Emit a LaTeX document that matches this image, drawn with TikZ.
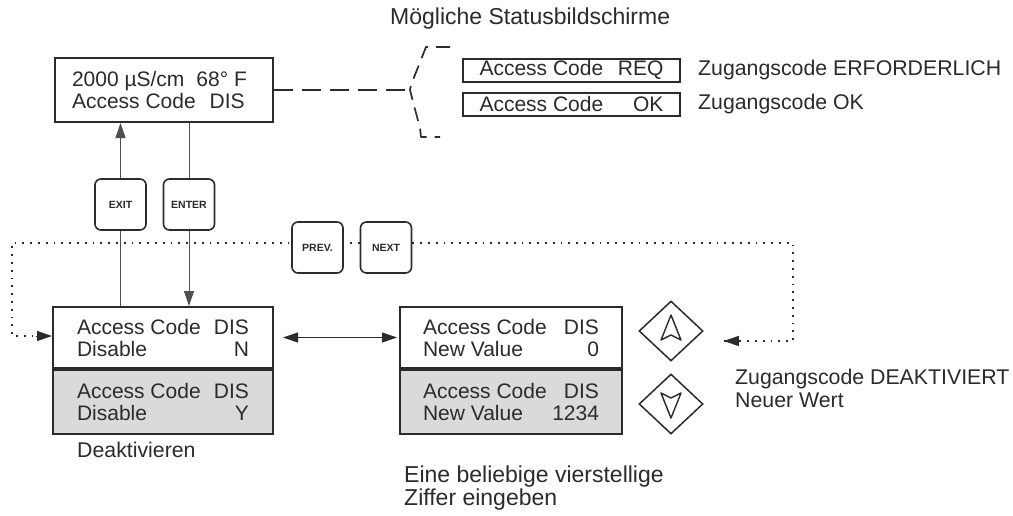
\documentclass[tikz,border=0pt]{standalone}
\usepackage{fontspec}
\setmainfont{Liberation Sans}
\usetikzlibrary{arrows.meta,shapes.geometric,backgrounds,calc}
\definecolor{ink}{HTML}{2B2B2B}
\definecolor{panel}{HTML}{DADADA}
\definecolor{wire}{HTML}{505050}
\tikzset{
  screen/.style={draw=ink, line width=2pt, rectangle, inner sep=0pt, fill=white,
    font=\fontsize{21}{22}\selectfont, text=ink},
  key/.style={draw=ink, line width=1.6pt, rounded corners=6pt, fill=white,
    minimum width=51pt, minimum height=51pt, inner sep=0pt,
    font=\fontsize{10.5}{11}\selectfont\bfseries, text=ink},
  arrowkey/.style={diamond, draw=ink, line width=1.5pt, fill=white,
    minimum width=64pt, minimum height=60pt, inner sep=0pt},
  label/.style={font=\fontsize{21.3}{23}\selectfont, text=ink, inner sep=0pt,
    anchor=west, align=left},
  tip/.style={-{Triangle[length=15pt,width=10pt]}},
  bothtips/.style={{Triangle[length=15pt,width=10pt]}-{Triangle[length=15pt,width=10pt]}},
  wireline/.style={draw=wire, line width=0.9pt},
  dotline/.style={draw=ink, line width=1.8pt, dash pattern=on 1.8pt off 6pt},
  dashline/.style={draw=ink, line width=1.8pt, dash pattern=on 19pt off 9pt},
}
\begin{document}
\begin{tikzpicture}[x=1pt, y=-1pt]
\useasboundingbox (0,0) rectangle (1013,515);

% status display
\node[screen, minimum width=218pt, minimum height=64pt] (top) at (164,90)
  {\parbox{184pt}{2000 µS/cm\hspace{12pt}68° F\\Access Code\hspace{14pt}DIS}};

% possible status screens
\node[label, font=\fontsize{23}{25}\selectfont] (title) at (390,19) {Mögliche Statusbildschirme};
\node[screen, minimum width=217pt, minimum height=23pt] (req) at (571.5,70)
  {\parbox{184pt}{Access Code\hfill REQ}};
\node[screen, minimum width=217pt, minimum height=23pt] (ok) at (571.5,104)
  {\parbox{184pt}{Access Code\hfill OK}};
\node[label] (reqtxt) at (698,70) {Zugangscode ERFORDERLICH};
\node[label] (oktxt) at (698,104) {Zugangscode OK};

% keys
\node[key] (exit)  at (120.5,204.5) {EXIT};
\node[key] (enter) at (189,204.5) {ENTER};
\node[key] (prev)  at (317.5,247.5) {PREV.};
\node[key] (next)  at (386,247.5) {NEXT};

% disable menu
\node[screen, minimum width=220pt, minimum height=61pt] (dn) at (163,337.5)
  {\parbox{172pt}{Access Code\hfill DIS\\Disable\hfill N}};
\node[screen, fill=panel, minimum width=220pt, minimum height=64pt, anchor=north] (dy) at (dn.south)
  {\parbox{172pt}{Access Code\hfill DIS\\Disable\hfill Y}};
\node[label] (deakt) at (77,450) {Deaktivieren};

% new value menu
\node[screen, minimum width=222pt, minimum height=61pt] (vn) at (511,337.5)
  {\parbox{176pt}{Access Code\hfill DIS\\New Value\hfill 0}};
\node[screen, fill=panel, minimum width=222pt, minimum height=64pt, anchor=north] (vy) at (vn.south)
  {\parbox{176pt}{Access Code\hfill DIS\\New Value\hfill 1234}};
\node[label, font=\fontsize{23}{23}\selectfont] (hint) at (404,488)
  {Eine beliebige vierstellige\\Ziffer eingeben};

% up / down keys
\node[arrowkey] (up) at (671,331) {};
\node[arrowkey] (down) at (671,404) {};
\draw[ink, line width=1.4pt, line join=round, shift={(up.center)}]
  (0,-16) -- (10,9) -- (0,4) -- (-10,9) -- cycle;
\draw[ink, line width=1.4pt, line join=round, shift={(down.center)}]
  (0,14) -- (10,-11) -- (0,-6) -- (-10,-11) -- cycle;
\node[label] (dtxt) at (735,388) {Zugangscode DEAKTIVIERT\\Neuer Wert};

% connectors
\coordinate (hub) at (410,90);
\coordinate (r2) at (793,341);
\coordinate (r1) at (793,243);
\coordinate (l1) at (12,243);
\coordinate (l2) at (12,336);
\coordinate (rtip) at ($(up.east |- r2)+(20,0)$);
\coordinate (ltip) at (dn.west |- l2);

\begin{scope}[on background layer]
  \fill[white] (0,0) rectangle (1013,515);
  \draw[wireline, tip] (dn.north -| exit) -- (top.south -| exit);
  \draw[wireline, tip] (top.south -| enter) -- (dn.north -| enter);
  % PREV/NEXT loop, dotted, with solid heads at both ends
  \draw[dotline] (rtip) -- (r2) -- (r1) -- (l1) -- (l2) -- (ltip);
  \draw[draw=ink, line width=1pt, tip] ($(rtip)+(16,0)$) -- (rtip);
  \draw[draw=ink, line width=1pt, tip] ($(ltip)+(-16,0)$) -- (ltip);
\end{scope}

\draw[draw=ink, line width=1pt, bothtips, shorten <=9pt, shorten >=2pt] (dn.east) -- (vn.west);
\draw[dashline] (top.east) -- (hub);
% brace gathering the status screens
\draw[draw=ink, line width=1.7pt, dash pattern=on 14pt off 8pt, line join=round]
  (450,47) -- (426,47) -- (411,85) -- (410,90) -- (412,98) -- (420,128) -- (421,137) -- (440,137);
\end{tikzpicture}
\end{document}
